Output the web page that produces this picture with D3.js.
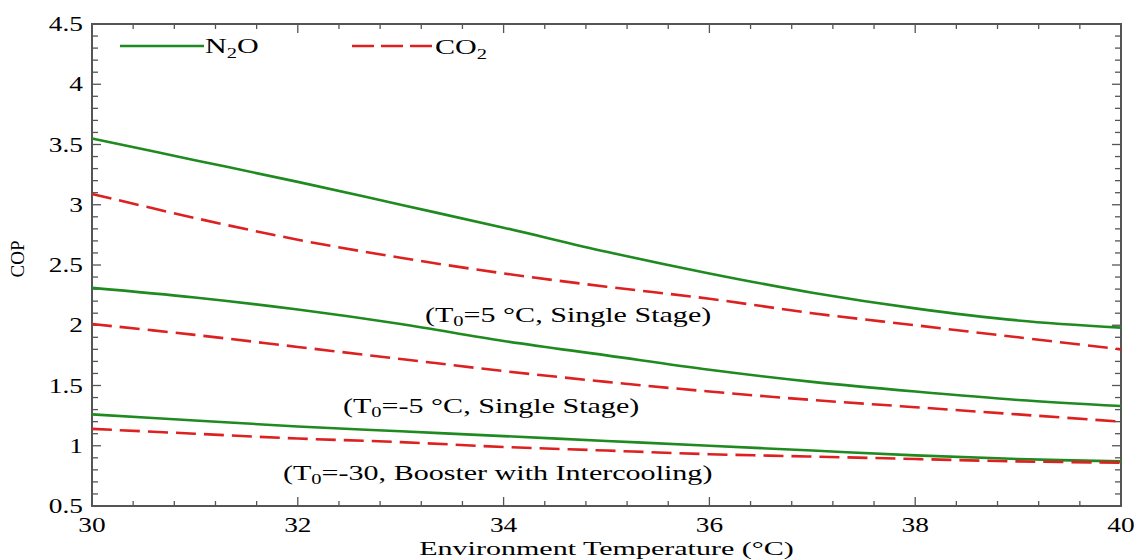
<!DOCTYPE html>
<html>
<head>
<meta charset="utf-8">
<script src="https://cdn.jsdelivr.net/npm/d3@7"></script>
<style>
  body { margin: 0; background: #fff; }
</style>
</head>
<body>
<div id="chart"></div>
<script>
{
  const temps = [30, 31, 32, 33, 34, 35, 36, 37, 38, 39, 40];
  const n2o5 = [3.55, 3.37, 3.19, 3.00, 2.81, 2.61, 2.43, 2.27, 2.14, 2.04, 1.98];
  const co25 = [3.09, 2.89, 2.71, 2.56, 2.43, 2.32, 2.22, 2.10, 2.00, 1.90, 1.80];
  const n2oM5 = [2.31, 2.23, 2.13, 2.01, 1.87, 1.75, 1.63, 1.53, 1.45, 1.38, 1.33];
  const co2M5 = [2.01, 1.92, 1.82, 1.72, 1.62, 1.53, 1.45, 1.38, 1.32, 1.26, 1.20];
  const n2oM30 = [1.26, 1.21, 1.16, 1.12, 1.08, 1.04, 1.00, 0.96, 0.92, 0.89, 0.87];
  const co2M30 = [1.14, 1.10, 1.06, 1.03, 0.99, 0.96, 0.93, 0.91, 0.89, 0.87, 0.86];
  const xTicks = [30, 32, 34, 36, 38, 40];
  const yTicks = [0.5, 1, 1.5, 2, 2.5, 3, 3.5, 4, 4.5];

  const width = 1138;
  const height = 560;
  const margin = { top: 24, right: 17, bottom: 54, left: 92 };
  const w = width - margin.left - margin.right;
  const h = height - margin.top - margin.bottom;
  const green = "#1f8a1f";
  const red = "#dd2020";
  const axisColor = "#555";
  const font = "'Liberation Serif', 'Times New Roman', Tinos, 'DejaVu Serif', 'Noto Serif', serif";
  const title = "Environment Temperature (°C)";

  const xScale = d3.scaleLinear().domain([30, 40]).range([0, w]);
  const yScale = d3.scaleLinear().domain([0.5, 4.5]).range([h, 0]);

  const svg = d3.select("#chart").append("svg")
    .attr("width", width)
    .attr("height", height)
    .attr("font-family", font)
    .style("font-family", font);

  // the picture is stretched sideways; measure the title and scale the text the same way
  const probe = svg.append("text").style("font-size", "22px").text(title);
  const sx = 375 / probe.node().getComputedTextLength();
  probe.style("font-size", "19px");
  const sxTitle = 375 / probe.node().getComputedTextLength();
  probe.remove();

  const g = svg.append("g")
    .attr("transform", `translate(${margin.left}, ${margin.top})`);

  // minor + major ticks pointing inward on all 4 sides
  const xMinor = d3.range(30, 40.001, 0.4).filter(v => Math.abs(v / 2 - Math.round(v / 2)) > 0.01);
  const yMinor = d3.range(0.5, 4.5001, 0.1).filter(v => Math.abs(v * 2 - Math.round(v * 2)) > 0.01);

  const ticks = g.append("g").style("stroke", axisColor).style("stroke-width", 1.3);

  xTicks.forEach(v => {
    ticks.append("line").attr("x1", xScale(v)).attr("x2", xScale(v)).attr("y1", h).attr("y2", h - 9);
    ticks.append("line").attr("x1", xScale(v)).attr("x2", xScale(v)).attr("y1", 0).attr("y2", 9);
  });
  xMinor.forEach(v => {
    ticks.append("line").attr("x1", xScale(v)).attr("x2", xScale(v)).attr("y1", h).attr("y2", h - 5);
    ticks.append("line").attr("x1", xScale(v)).attr("x2", xScale(v)).attr("y1", 0).attr("y2", 5);
  });
  yTicks.forEach(v => {
    ticks.append("line").attr("x1", 0).attr("x2", 9).attr("y1", yScale(v)).attr("y2", yScale(v));
    ticks.append("line").attr("x1", w).attr("x2", w - 9).attr("y1", yScale(v)).attr("y2", yScale(v));
  });
  yMinor.forEach(v => {
    ticks.append("line").attr("x1", 0).attr("x2", 6).attr("y1", yScale(v)).attr("y2", yScale(v));
    ticks.append("line").attr("x1", w).attr("x2", w - 6).attr("y1", yScale(v)).attr("y2", yScale(v));
  });

  g.append("rect")
    .attr("width", w)
    .attr("height", h)
    .style("fill", "none")
    .style("stroke", axisColor)
    .style("stroke-width", 2);

  // tick labels
  g.selectAll(".xlab")
    .data(xTicks)
    .join("text")
    .attr("class", "xlab")
    .attr("transform", d => `translate(${xScale(d)}, ${h + 26}) scale(${sx}, 1)`)
    .attr("text-anchor", "middle")
    .style("font-size", "20px")
    .text(d => d);

  g.selectAll(".ylab")
    .data(yTicks)
    .join("text")
    .attr("class", "ylab")
    .attr("transform", d => `translate(-9, ${yScale(d) + 7}) scale(${sx}, 1)`)
    .attr("text-anchor", "end")
    .style("font-size", "20px")
    .text(d => d);

  svg.append("text")
    .attr("transform", `translate(${margin.left + xScale(35)}, 555) scale(${sxTitle}, 1)`)
    .attr("text-anchor", "middle")
    .style("font-size", "19px")
    .text(title);

  svg.append("text")
    .attr("transform", `translate(24, 259) rotate(-90)`)
    .attr("text-anchor", "middle")
    .style("font-size", "19px")
    .text("COP");

  const line = d3.line()
    .curve(d3.curveCatmullRom)
    .x((d, i) => xScale(temps[i]))
    .y(d => yScale(d));

  const series = [
    { values: n2o5, color: green, dash: null },
    { values: co25, color: red, dash: "20,8" },
    { values: n2oM5, color: green, dash: null },
    { values: co2M5, color: red, dash: "20,8" },
    { values: n2oM30, color: green, dash: null },
    { values: co2M30, color: red, dash: "20,8" }
  ];

  g.selectAll(".series")
    .data(series)
    .join("path")
    .attr("class", "series")
    .attr("d", d => line(d.values))
    .style("fill", "none")
    .style("stroke", d => d.color)
    .style("stroke-width", 2.6)
    .style("stroke-dasharray", d => d.dash);

  // legend
  const legend = svg.append("g");
  legend.append("line")
    .attr("x1", 120).attr("x2", 204).attr("y1", 46).attr("y2", 46)
    .style("stroke", green).style("stroke-width", 2.6);
  const t1 = legend.append("text")
    .attr("transform", `translate(205, 53) scale(${sx}, 1)`)
    .style("font-size", "22px");
  t1.append("tspan").text("N");
  t1.append("tspan").attr("dy", 5).style("font-size", "15px").text("2");
  t1.append("tspan").attr("dy", -5).text("O");

  legend.append("line")
    .attr("x1", 352).attr("x2", 434).attr("y1", 46).attr("y2", 46)
    .style("stroke", red).style("stroke-width", 2.6)
    .style("stroke-dasharray", "22,7");
  const t2 = legend.append("text")
    .attr("transform", `translate(435, 54) scale(${sx}, 1)`)
    .style("font-size", "22px");
  t2.append("tspan").text("CO");
  t2.append("tspan").attr("dy", 5).style("font-size", "15px").text("2");

  // annotations
  const notes = [
    { x: 425, y: 322, pre: "(T", post: "=5 °C, Single Stage)" },
    { x: 343, y: 413, pre: "(T", post: "=-5 °C, Single Stage)" },
    { x: 283, y: 480, pre: "(T", post: "=-30, Booster with Intercooling)" }
  ];
  notes.forEach(n => {
    const t = svg.append("text")
      .attr("transform", `translate(${n.x}, ${n.y}) scale(${sx}, 1)`)
      .style("font-size", "22px");
    t.append("tspan").text(n.pre);
    t.append("tspan").attr("dy", 4).style("font-size", "15px").text("0");
    t.append("tspan").attr("dy", -4).text(n.post);
  });
}
</script>
</body>
</html>
